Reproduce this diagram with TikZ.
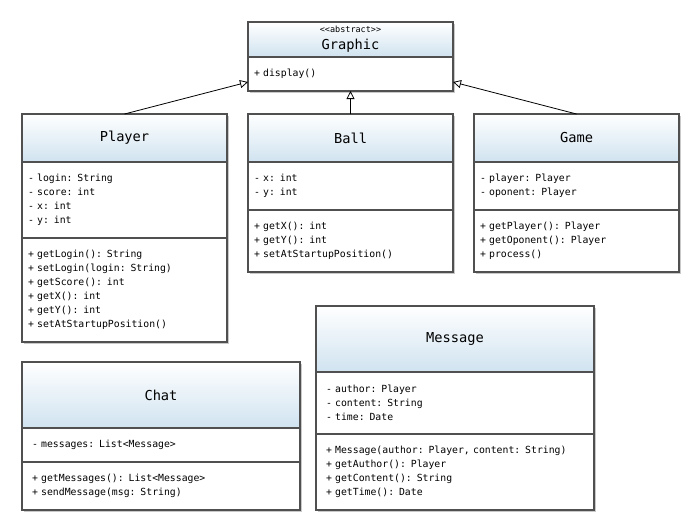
\documentclass[tikz,border=0pt]{standalone}
\usepackage{fontspec}
\setmainfont{DejaVu Sans Mono}
\usetikzlibrary{positioning}
\usetikzlibrary{shadows}
\usetikzlibrary{arrows.meta}
\definecolor{headblue}{RGB}{208,227,240}
\definecolor{edge}{RGB}{80,80,80}

\tikzset{
  umlbox/.style={rectangle, draw=edge, line width=1.2pt, fill=white, inner xsep=6pt, inner ysep=0pt, outer sep=0pt,
    drop shadow={opacity=0.3, fill=black!70, shadow xshift=1.5pt, shadow yshift=-2pt}},
  classname/.style={umlbox, top color=white, bottom color=headblue, align=center, text width=193pt,
    font=\fontsize{13.7}{16}\selectfont},
  classpart/.style={umlbox, align=left, text width=193pt, font=\fontsize{9.8}{14}\selectfont},
  widename/.style={classname, inner xsep=10pt, text width=258pt},
  widepart/.style={classpart, inner xsep=10pt, text width=258pt},
  inherit/.style={draw=black, line width=0.8pt, -{Triangle[open, length=8pt, width=8pt]}},
}

\begin{document}
\begin{tikzpicture}[x=1pt, y=-1pt]
  \useasboundingbox (0,0) rectangle (700,531);
  % Graphic
  \node[classname, anchor=north west, minimum height=35pt] (graphic) at (248,22)
    {{\fontsize{8.5}{10}\selectfont <{}<abstract>{}>}\\[1pt] Graphic};
  \node[classpart, minimum height=34pt, below=0pt of graphic] (graphicops) {+ display()};
  % Player
  \node[classname, anchor=north west, minimum height=48pt] (player) at (22,114) {Player};
  \node[classpart, minimum height=76pt, below=0pt of player] (playerattr)
    {- login: String\\- score: int\\- x: int\\- y: int};
  \node[classpart, minimum height=104pt, below=0pt of playerattr] (playerops)
    {+ getLogin(): String\\+ setLogin(login: String)\\+ getScore(): int\\+ getX(): int\\+ getY(): int\\+ setAtStartupPosition()};
  % Ball
  \node[classname, anchor=north west, minimum height=48pt] (ball) at (248,114) {Ball};
  \node[classpart, minimum height=48pt, below=0pt of ball] (ballattr)
    {- x: int\\- y: int};
  \node[classpart, minimum height=62pt, below=0pt of ballattr] (ballops)
    {+ getX(): int\\+ getY(): int\\+ setAtStartupPosition()};
  % Game
  \node[classname, anchor=north west, minimum height=48pt] (game) at (474,114) {Game};
  \node[classpart, minimum height=48pt, below=0pt of game] (gameattr)
    {- player: Player\\- oponent: Player};
  \node[classpart, minimum height=62pt, below=0pt of gameattr] (gameops)
    {+ getPlayer(): Player\\+ getOponent(): Player\\+ process()};
  % Chat
  \node[widename, anchor=north west, minimum height=66pt] (chat) at (22,362) {Chat};
  \node[widepart, minimum height=34pt, below=0pt of chat] (chatattr)
    {- messages: List<Message>};
  \node[widepart, minimum height=48pt, below=0pt of chatattr] (chatops)
    {+ getMessages(): List<Message>\\+ sendMessage(msg: String)};
  % Message
  \node[widename, anchor=north west, minimum height=66pt] (message) at (316,306) {Message};
  \node[widepart, minimum height=62pt, below=0pt of message] (messageattr)
    {- author: Player\\- content: String\\- time: Date};
  \node[widepart, minimum height=76pt, below=0pt of messageattr] (messageops)
    {+ Message(author: Player, content: String)\\+ getAuthor(): Player\\+ getContent(): String\\+ getTime(): Date};
  % Inheritance
  \draw[inherit] (player.north) -- ([yshift=-8pt]graphicops.west);
  \draw[inherit] (ball.north) -- (graphicops.south);
  \draw[inherit] (game.north) -- ([yshift=-8pt]graphicops.east);
\end{tikzpicture}
\end{document}
